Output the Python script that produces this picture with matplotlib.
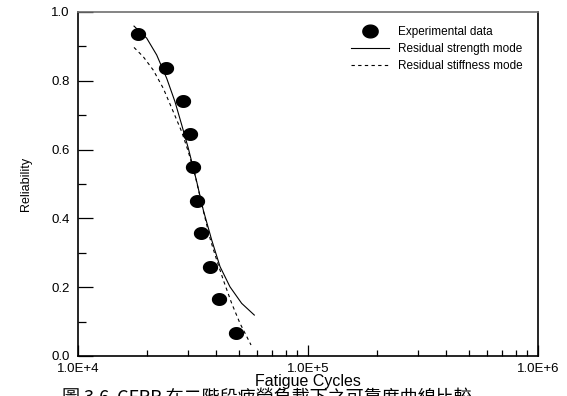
import matplotlib
matplotlib.use("Agg")
import matplotlib.pyplot as plt
import numpy as np
from matplotlib.path import Path
from matplotlib.ticker import FixedLocator, LogLocator, NullFormatter

plt.rcParams['font.family'] = ['Liberation Sans', 'DejaVu Sans']

# experimental data (fatigue cycles, reliability)
exp_cycles = [18180, 24060, 28530, 30690, 31720, 32810, 34170, 37500, 40910, 48640]
exp_rel = [0.935, 0.837, 0.742, 0.644, 0.549, 0.451, 0.357, 0.260, 0.165, 0.068]

# residual strength mode curve
strength_cycles = [17520, 19890, 21990, 24310, 26410, 28240, 30170, 32820,
                   35060, 38140, 41440, 45800, 51480, 58420]
strength_rel = [0.959, 0.924, 0.875, 0.807, 0.739, 0.672, 0.604, 0.507,
                0.424, 0.337, 0.260, 0.201, 0.153, 0.119]

# residual stiffness mode curve
stiffness_cycles = [17520, 19220, 21250, 23490, 25960, 28240, 30170, 32270,
                    35000, 37670, 40090, 42830, 46580, 50620, 56530]
stiffness_rel = [0.897, 0.870, 0.831, 0.778, 0.710, 0.652, 0.594, 0.526,
                 0.424, 0.337, 0.279, 0.221, 0.153, 0.095, 0.032]

x_ticks = [1e4, 1e5, 1e6]
x_labels = ["1.0E+4", "1.0E+5", "1.0E+6"]
y_ticks = [0.0, 0.2, 0.4, 0.6, 0.8, 1.0]
y_labels = ["0.0", "0.2", "0.4", "0.6", "0.8", "1.0"]

caption = "圖 3.6  CFRP 在二階段疲勞負載下之可靠度曲線比較"

# slightly wide dot like the original
t = np.linspace(0, 2 * np.pi, 60)
oval = Path(np.column_stack([1.2 * np.cos(t), np.sin(t)]))

fig = plt.figure(figsize=(5.67, 3.96), dpi=100)
ax = fig.add_axes([78 / 567, 40 / 396, 460 / 567, 344 / 396])

ax.plot(exp_cycles, exp_rel, linestyle="none", marker=oval, markersize=10,
        color="black", label="Experimental data")
ax.plot(strength_cycles, strength_rel, color="black", lw=0.8,
        label="Residual strength mode")
ax.plot(stiffness_cycles, stiffness_rel, color="black", lw=0.8,
        dashes=(3, 3), label="Residual stiffness mode")

ax.set_xscale("log")
ax.set_xlim(1e4, 1e6)
ax.set_ylim(0, 1)

ax.set_xticks(x_ticks)
ax.set_xticklabels(x_labels, fontsize=9.5)
ax.xaxis.set_minor_locator(LogLocator(base=10, subs=np.arange(2, 10)))
ax.xaxis.set_minor_formatter(NullFormatter())
ax.set_yticks(y_ticks)
ax.set_yticklabels(y_labels, fontsize=9.5)
ax.yaxis.set_minor_locator(FixedLocator([0.1, 0.3, 0.5, 0.7, 0.9]))

ax.tick_params(axis="x", which="major", direction="in", length=8, width=0.9, pad=5)
ax.tick_params(axis="x", which="minor", direction="in", length=4.5, width=0.9)
ax.tick_params(axis="y", which="major", direction="in", length=11, width=0.9, pad=6)
ax.tick_params(axis="y", which="minor", direction="in", length=6, width=0.9)

for side in ["left", "bottom", "right"]:
    ax.spines[side].set_linewidth(1.2)
ax.spines["top"].set_color("#707070")
ax.spines["top"].set_linewidth(1.2)

ax.set_xlabel("Fatigue Cycles", fontsize=11.5, labelpad=-1)
ax.set_ylabel("Reliability", fontsize=9, labelpad=14)

ax.legend(loc="upper left", bbox_to_anchor=(0.571, 0.99), frameon=False,
          fontsize=8.5, handlelength=3.2, handletextpad=0.75, labelspacing=0.42,
          markerscale=1.1)

# caption is cut off by the bottom edge in the original
fig.text(62 / 567, 1 - 389 / 396, caption, fontsize=13, va="top", ha="left",
         family=["Noto Sans CJK TC", "DejaVu Sans"])

fig.savefig("out.png", dpi=100)
